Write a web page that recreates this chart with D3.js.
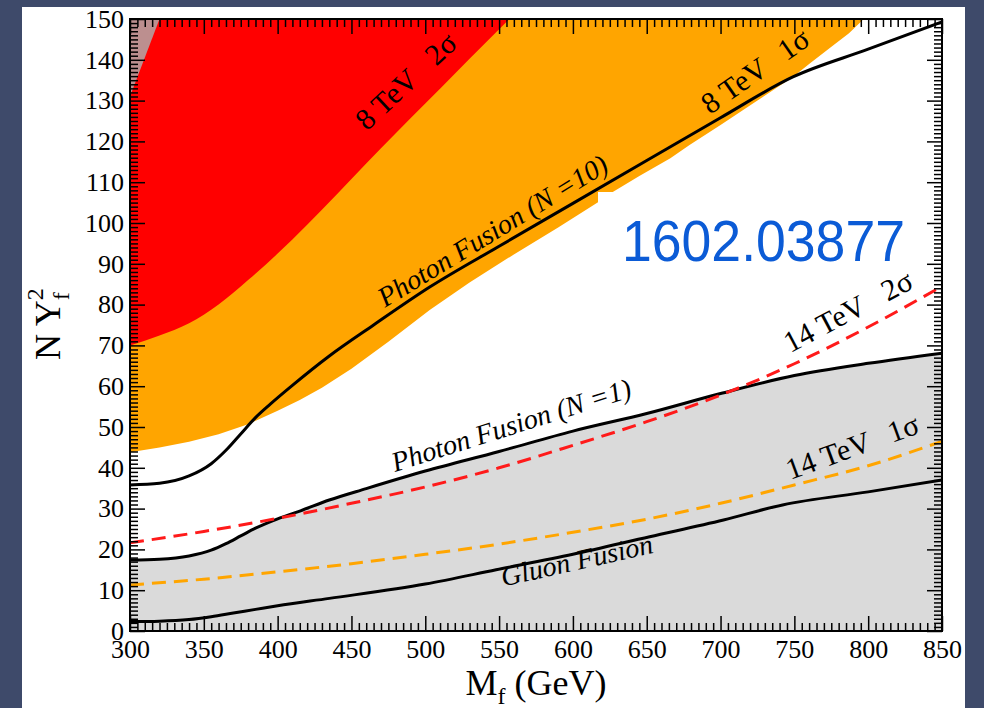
<!DOCTYPE html>
<html>
<head>
<meta charset="utf-8">
<script src="https://cdnjs.cloudflare.com/ajax/libs/d3/7.8.5/d3.min.js"></script>
<style>
body { margin: 0; background: #3e4a6a; }
text { font-family: "Liberation Serif", "Times New Roman", serif; fill: black; }
</style>
</head>
<body>
<div id="chart"></div>
<script>
// Curves: [M_f (GeV), N Y_f^2]
var gluonFusion = [[300,2.3],[320,2.4],[340,2.8],[355,3.5],[370,4.4],[385,5.3],[400,6.2],[435,8],[500,11.5],
    [548,15],[600,18.8],[652,23.1],[702,27.2],[742,30.9],[800,34.1],[850,37]];

var photonN1 = [[300,17.4],[320,17.6],[340,18.4],[355,19.8],[365,21.4],[375,23.3],[385,25.2],[400,27.5],
    [415,29.4],[435,32.1],[460,34.9],[500,39.2],[550,44],[600,49],[650,53.3],[700,58.2],[750,62.6],
    [800,65.6],[850,68.1]];

var photonN10 = [[300,35.8],[320,36.2],[340,38],[355,41],[365,44.3],[375,48.3],[385,52.3],[395,55.6],
    [410,60.2],[435,67.4],[465,75],[503,84.3],[550,94.3],[600,104.8],[650,115.3],[700,125.8],
    [749,135.8],[800,142.6],[850,149.3]];

var lhc14TeV2s = [[300,21.6],[350,24.4],[400,27.6],[450,31.3],[500,35.3],[550,40],[600,45.5],[650,51.3],
    [700,57.8],[750,65.5],[800,74.5],[850,84.5]];

var lhc14TeV1s = [[300,11.3],[350,12.7],[400,14.5],[450,16.5],[500,18.8],[550,21.3],[600,24.2],[650,27.4],
    [700,31.3],[750,35.8],[800,40.5],[850,46.5]];

// lower edge of the 8 TeV 1 sigma band (upper edge is the top of the frame)
var lhc8TeV1sEdge = [[300,43.8],[320,45],[340,46.4],[360,48.2],[380,50.7],[400,54],[415,56.6],[430,59.6],
    [450,64.3],[475,70.9],[503,78.7],[530,85.4],[560,92.3],[590,98.9],[617,105.1],[617,107.6],[627,107.6],
    [645,111.5],[666,115.9],[679,119.1],[700,124],[725,130],[749,135.8],[760,139],[774,142.9],[787,146.5],
    [797,150]];

// lower edge of the 8 TeV 2 sigma band
var lhc8TeV2sEdge = [[300,70],[320,72.4],[340,75.4],[360,80],[380,86],[400,92.5],[420,99.6],[440,107],
    [460,114.6],[480,122],[500,129.3],[520,136.6],[540,143.9],[557,150]];

// small corner region in the top left
var cornerEdge = [[300,131],[320,150]];

var xTicks = [300, 350, 400, 450, 500, 550, 600, 650, 700, 750, 800, 850];
var yTicks = [0, 10, 20, 30, 40, 50, 60, 70, 80, 90, 100, 110, 120, 130, 140, 150];

var svgWidth = 984;
var svgHeight = 708;

var margin = {
    top: 19,
    bottom: 77,
    right: 42,
    left: 130
};

var width = svgWidth - margin.left - margin.right;
var height = svgHeight - margin.top - margin.bottom;

var svg = d3.select("#chart")
    .append("svg")
    .attr("width", svgWidth)
    .attr("height", svgHeight)
    .style("display", "block");

svg.append("rect")
    .attr("width", svgWidth)
    .attr("height", svgHeight)
    .attr("fill", "#3e4a6a");

// white slide panel
svg.append("rect")
    .attr("x", 22)
    .attr("y", 7)
    .attr("width", 943)
    .attr("height", 701)
    .attr("fill", "white");

var chartGroup = svg.append("g")
    .attr("transform", `translate(${margin.left}, ${margin.top})`);

var xScale = d3.scaleLinear().domain([300, 850]).range([0, width]);
var yScale = d3.scaleLinear().domain([0, 150]).range([height, 0]);

svg.append("defs").append("clipPath")
    .attr("id", "plotClip")
    .append("rect")
    .attr("width", width)
    .attr("height", height);

var plot = chartGroup.append("g").attr("clip-path", "url(#plotClip)");

// Filled regions.
var underArea = d3.area()
    .x(d => xScale(d[0]))
    .y0(yScale(0))
    .y1(d => yScale(d[1]))
    .curve(d3.curveMonotoneX);

var topArea = d3.area()
    .x(d => xScale(d[0]))
    .y0(d => yScale(d[1]))
    .y1(yScale(150));

plot.append("path").datum(photonN1).attr("d", underArea).attr("fill", "#dadada");
plot.append("path").datum(lhc8TeV1sEdge).attr("d", topArea).attr("fill", "#ffa500");
plot.append("path").datum(lhc8TeV2sEdge).attr("d", topArea.curve(d3.curveMonotoneX)).attr("fill", "#ff0000");
plot.append("path").datum(cornerEdge).attr("d", topArea.curve(d3.curveLinear)).attr("fill", "#bc8f8f");

// Curves.
var line = d3.line()
    .x(d => xScale(d[0]))
    .y(d => yScale(d[1]))
    .curve(d3.curveMonotoneX);

[gluonFusion, photonN1, photonN10].forEach(function(s) {
    plot.append("path").datum(s)
        .attr("d", line)
        .attr("fill", "none")
        .attr("stroke", "black")
        .attr("stroke-width", 3);
});

plot.append("path").datum(lhc14TeV2s)
    .attr("d", line)
    .attr("fill", "none")
    .attr("stroke", "#ff1a1a")
    .attr("stroke-width", 3)
    .attr("stroke-dasharray", "14,8");

plot.append("path").datum(lhc14TeV1s)
    .attr("d", line)
    .attr("fill", "none")
    .attr("stroke", "#ffa500")
    .attr("stroke-width", 3)
    .attr("stroke-dasharray", "14,8");

// Curve labels.
function addLabel(txt, sig, gap, m, v, angle, italic) {
    var t = plot.append("text")
        .attr("transform", `translate(${xScale(m)}, ${yScale(v)}) rotate(${-angle})`)
        .style("font-size", italic ? "28px" : "30px")
        .style("font-style", italic ? "italic" : "normal")
        .text(txt);
    if (sig) {
        t.append("tspan").attr("dx", gap).text(sig);
    }
}

addLabel("Photon Fusion (N =10)", null, 0, 472.8, 79.2, 31.5, true);
addLabel("Photon Fusion (N =1)", null, 0, 479.5, 39, 17.6, true);
addLabel("Gluon Fusion", null, 0, 552.9, 10.9, 12.6, true);
addLabel("8 TeV", "2σ", 22, 460.3, 122.4, 43, false);
addLabel("8 TeV", "1σ", 20, 692.9, 126.5, 35, false);
addLabel("14 TeV", "2σ", 22, 747.2, 68.1, 27.8, false);
addLabel("14 TeV", "1σ", 20, 747.2, 37, 20, false);

// Axes with inward ticks on all four sides.
var xMinor = d3.range(300, 851, 5).filter(v => v % 50 !== 0);
var yMinor = d3.range(0, 151, 1).filter(v => v % 10 !== 0);

function styleAxis(g) {
    g.select(".domain").remove();
    g.selectAll("line").attr("stroke", "black").attr("stroke-width", 1.5);
    g.selectAll("text").style("font-size", "26px").attr("fill", "black");
}

chartGroup.append("g")
    .attr("transform", `translate(0, ${height})`)
    .call(d3.axisBottom(xScale).tickValues(xTicks).tickSize(-15).tickSizeOuter(0).tickPadding(9))
    .call(styleAxis);
chartGroup.append("g")
    .attr("transform", `translate(0, ${height})`)
    .call(d3.axisBottom(xScale).tickValues(xMinor).tickSize(-8).tickSizeOuter(0).tickFormat(""))
    .call(styleAxis);
chartGroup.append("g")
    .call(d3.axisTop(xScale).tickValues(xTicks).tickSize(-15).tickSizeOuter(0).tickFormat(""))
    .call(styleAxis);
chartGroup.append("g")
    .call(d3.axisTop(xScale).tickValues(xMinor).tickSize(-8).tickSizeOuter(0).tickFormat(""))
    .call(styleAxis);

chartGroup.append("g")
    .call(d3.axisLeft(yScale).tickValues(yTicks).tickSize(-15).tickSizeOuter(0).tickPadding(6))
    .call(styleAxis);
chartGroup.append("g")
    .call(d3.axisLeft(yScale).tickValues(yMinor).tickSize(-8).tickSizeOuter(0).tickFormat(""))
    .call(styleAxis);
chartGroup.append("g")
    .attr("transform", `translate(${width}, 0)`)
    .call(d3.axisRight(yScale).tickValues(yTicks).tickSize(-15).tickSizeOuter(0).tickFormat(""))
    .call(styleAxis);
chartGroup.append("g")
    .attr("transform", `translate(${width}, 0)`)
    .call(d3.axisRight(yScale).tickValues(yMinor).tickSize(-8).tickSizeOuter(0).tickFormat(""))
    .call(styleAxis);

chartGroup.append("rect")
    .attr("width", width)
    .attr("height", height)
    .attr("fill", "none")
    .attr("stroke", "black")
    .attr("stroke-width", 2);

// Axis titles.
var xTitle = chartGroup.append("text")
    .attr("x", width / 2)
    .attr("y", height + 64)
    .attr("text-anchor", "middle")
    .style("font-size", "36px")
    .text("M");
xTitle.append("tspan").attr("dy", 9).style("font-size", "24px").text("f");
xTitle.append("tspan").attr("dy", -9).text(" (GeV)");

var yTitle = chartGroup.append("text")
    .attr("transform", "translate(-70, 341) rotate(-90)")
    .style("font-size", "36px")
    .text("N Y");
yTitle.append("tspan").attr("dy", 9).style("font-size", "24px").text("f");
yTitle.append("tspan").attr("dx", -8).attr("dy", -26).style("font-size", "24px").text("2");

// arXiv reference stamp
svg.append("text")
    .attr("x", 622)
    .attr("y", 261)
    .attr("textLength", 283)
    .attr("lengthAdjust", "spacingAndGlyphs")
    .style("font-family", "'Liberation Sans', Arial, sans-serif")
    .style("font-size", "58px")
    .style("fill", "#0b5bd6")
    .text("1602.03877");
</script>
</body>
</html>
